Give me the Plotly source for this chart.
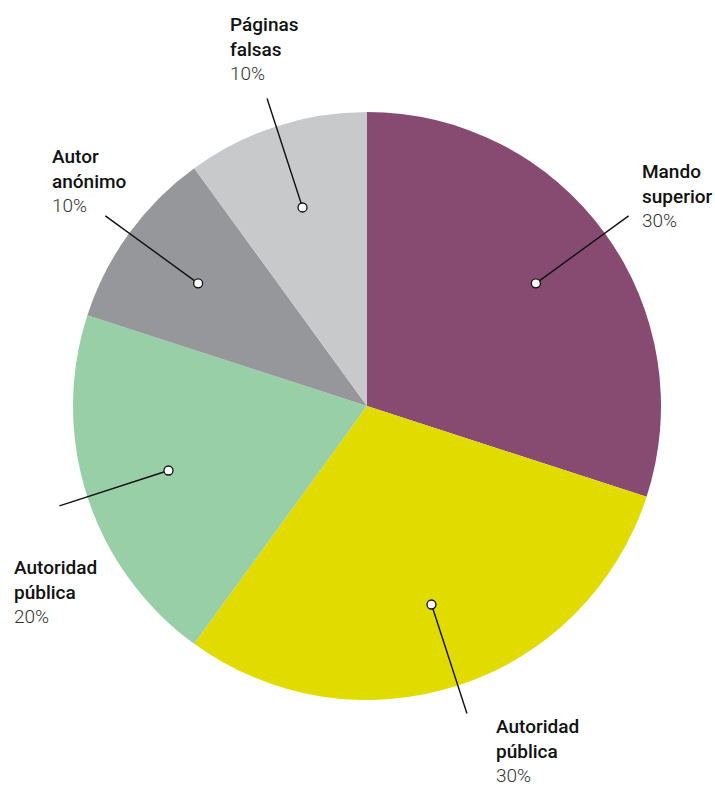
import math
import plotly.graph_objects as go

# ---- data ----
categories = ["Mando superior", "Autoridad pública", "Autoridad pública", "Autor anónimo", "Páginas falsas"]
name_lines = [["Mando", "superior"], ["Autoridad", "pública"], ["Autoridad", "pública"], ["Autor", "anónimo"], ["Páginas", "falsas"]]
values = [30, 30, 20, 10, 10]
colors = ["#874B72", "#E2DB00", "#99CFA6", "#96979A", "#C8C9CB"]

# ---- layout constants ----
W, H = 715, 786
CX, CY, R = 367, 406, 294
DOT_R = 0.71 * R
END_R = 1.10 * R
DOT_SIZE = 4.5
# label block placement (left x, centre y of block) in pixels
label_place = [(640, 196), (494, 751), (12, 592), (50, 181), (228, 49)]

fig = go.Figure()
fig.add_trace(go.Pie(
    values=values,
    labels=[f"s{i}" for i in range(len(values))],
    hovertext=categories,
    marker=dict(colors=colors, line=dict(width=0)),
    sort=False, direction="clockwise", rotation=0,
    textinfo="none", hoverinfo="text+percent",
    showlegend=False,
    domain=dict(x=[(CX - R) / W, (CX + R) / W], y=[1 - (CY + R) / H, 1 - (CY - R) / H]),
))

total = sum(values)
cum = 0
annotations = []
lines = []
dots = []
for i, v in enumerate(values):
    mid = (cum + v / 2) / total * 2 * math.pi
    cum += v
    dx, dy = math.sin(mid), -math.cos(mid)
    x0, y0 = CX + DOT_R * dx, CY + DOT_R * dy
    x1, y1 = CX + END_R * dx, CY + END_R * dy
    lines.append(dict(type="line", xref="x", yref="y", x0=x0, y0=y0, x1=x1, y1=y1,
                      line=dict(color="#111111", width=1.4), layer="above"))
    dots.append(dict(type="circle", xref="x", yref="y",
                     x0=x0 - DOT_SIZE, x1=x0 + DOT_SIZE, y0=y0 - DOT_SIZE, y1=y0 + DOT_SIZE,
                     fillcolor="white", line=dict(color="#111111", width=1.3), layer="above"))
    pct = round(v / total * 100)
    lx, ly = label_place[i]
    text = ("<br>".join(name_lines[i])
            + f"<br><span style='font-weight:300;color:#333333'>{pct}%</span>")
    annotations.append(dict(x=lx, y=ly, xref="x", yref="y", text=text,
                            showarrow=False, xanchor="left", yanchor="middle", align="left",
                            font=dict(family="Roboto", size=19, color="#111111", weight=500)))

fig.update_layout(
    width=W, height=H,
    margin=dict(l=0, r=0, t=0, b=0),
    paper_bgcolor="white", plot_bgcolor="rgba(0,0,0,0)",
    xaxis=dict(range=[0, W], visible=False, fixedrange=True),
    yaxis=dict(range=[H, 0], visible=False, fixedrange=True),
    shapes=lines + dots,
    annotations=annotations,
)

fig.write_html("out.html", config={"displayModeBar": False},
               post_script="document.body.style.margin='0';")
